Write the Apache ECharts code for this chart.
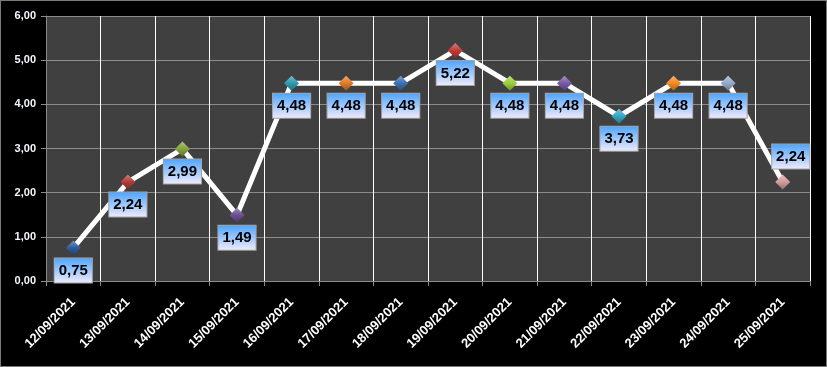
<!DOCTYPE html>
<html>
<head>
<meta charset="utf-8">
<script src="https://cdn.jsdelivr.net/npm/echarts@6/dist/echarts.min.js"></script>
<style>
html,body{margin:0;padding:0;background:#000;}
#c{width:827px;height:367px;box-sizing:border-box;border:1px solid #7a7a7a;}
</style>
</head>
<body>
<div id="c"></div>
<script>
const categories = ['12/09/2021','13/09/2021','14/09/2021','15/09/2021','16/09/2021','17/09/2021','18/09/2021','19/09/2021','20/09/2021','21/09/2021','22/09/2021','23/09/2021','24/09/2021','25/09/2021'];
const values = [0.75, 2.24, 2.99, 1.49, 4.48, 4.48, 4.48, 5.22, 4.48, 4.48, 3.73, 4.48, 4.48, 2.24];
const markerColors = ['#2f5d9a','#b23b38','#86a33e','#6b4f90','#2f9bb2','#e27c26','#3b70b8','#c23a35','#9ccf3c','#7a5aa8','#33a6c4','#f58b20','#95aacb','#d49c9b'];

function lighten(hex, f){
  const n=parseInt(hex.slice(1),16);
  let r=(n>>16)&255,g=(n>>8)&255,b=n&255;
  r=Math.round(r+(255-r)*f);g=Math.round(g+(255-g)*f);b=Math.round(b+(255-b)*f);
  return 'rgb('+r+','+g+','+b+')';
}
function darken(hex, f){
  const n=parseInt(hex.slice(1),16);
  let r=(n>>16)&255,g=(n>>8)&255,b=n&255;
  return 'rgb('+Math.round(r*(1-f))+','+Math.round(g*(1-f))+','+Math.round(b*(1-f))+')';
}

const chart = echarts.init(document.getElementById('c'));
const labelBg = new echarts.graphic.LinearGradient(0,0,0,1,[{offset:0,color:'#49a3ff'},{offset:1,color:'#f3ecfb'}]);
const data = values.map((v,i)=>{
  const item = {
    value: v,
    itemStyle: {
      color: new echarts.graphic.LinearGradient(0,0,0,1,[
        {offset:0,color:lighten(markerColors[i],0.35)},
        {offset:0.5,color:markerColors[i]},
        {offset:1,color:darken(markerColors[i],0.3)}
      ]),
      borderWidth:0
    }
  };
  if (i === values.length-1) {
    item.label = {position:'top', distance:6, offset:[8,0]};
  }
  return item;
});

chart.setOption({
  backgroundColor:'#000',
  animation:false,
  grid:{left:45,right:16,top:15,bottom:85,show:true,backgroundColor:'#404040',borderWidth:0},
  xAxis:{
    type:'category',
    data:categories,
    boundaryGap:true,
    axisLine:{show:true,lineStyle:{color:'#8c8c8c',width:1}},
    axisTick:{show:true,length:5,lineStyle:{color:'#8c8c8c'}},
    axisLabel:{rotate:45,color:'#ffffff',fontFamily:'Liberation Sans',fontWeight:'bold',fontSize:13,margin:19,interval:0},
    splitLine:{show:true,lineStyle:{color:'#ffffff',width:1}}
  },
  yAxis:{
    type:'value',
    min:0,max:6,interval:1,
    axisLine:{show:true,lineStyle:{color:'#8c8c8c',width:1}},
    axisTick:{show:true,length:5,lineStyle:{color:'#8c8c8c'}},
    axisLabel:{color:'#f4f8ff',fontFamily:'Liberation Sans',fontWeight:'bold',fontSize:11,margin:10,formatter:v=>v.toFixed(2).replace('.',',')},
    splitLine:{show:true,lineStyle:{color:'#8c8c8c',width:1}}
  },
  series:[{
    type:'line',
    data:data,
    symbol:'diamond',
    symbolSize:15,
    lineStyle:{color:'#ffffff',width:5},
    label:{
      show:true,
      position:'bottom',
      distance:3,
      color:'#000',
      fontFamily:'Liberation Sans',
      fontWeight:'bold',
      fontSize:15,
      lineHeight:17,
      padding:[4,4,3,4],
      backgroundColor:labelBg,
      borderColor:'#a3a3a3',
      borderWidth:1,
      formatter:p=>p.value.toFixed(2).replace('.',',')
    },
    z:3
  }]
});
</script>
</body>
</html>
